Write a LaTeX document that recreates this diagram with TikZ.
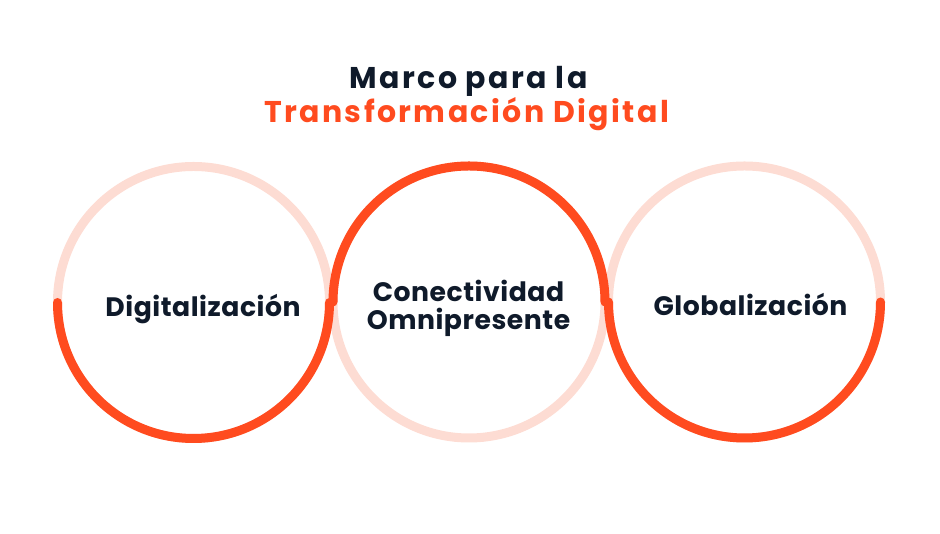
\documentclass[tikz,border=0pt]{standalone}
\usepackage{fontspec}
\setmainfont{Poppins}
\definecolor{navy}{HTML}{0F1A2A}
\definecolor{tang}{HTML}{FF4B1F}
\definecolor{blush}{HTML}{FDDCD3}
\tikzset{h/.style={font=\fontsize{22.5}{22.5}\selectfont\bfseries\addfontfeature{LetterSpace=8},anchor=base,inner sep=0pt}}
\tikzset{l/.style={font=\fontsize{20}{20}\selectfont\bfseries\addfontfeature{LetterSpace=2},anchor=base,inner sep=0pt,text=navy}}
\tikzset{ring/.style={line width=6.75pt,blush}}
\tikzset{arcus/.style={line width=6.75pt,tang,line cap=round}}

\begin{document}
\begin{tikzpicture}[x=0.75pt,y=0.75pt]
        \useasboundingbox (0,0) rectangle (940,534);
        % centres of the three rings
        \coordinate (cd) at (193.5,231.5);
        \coordinate (cc) at (469,232);
        \coordinate (cg) at (744.5,232);
        \foreach \x in {cd,cc,cg}
          \draw[ring] (\x) circle (136);
        \draw[arcus] ([shift={(180:136)}]cd) arc (180:360:136);
        \draw[arcus] ([shift={(180:136)}]cg) arc (180:360:136);
        \draw[arcus] ([shift={(0:136)}]cc) arc (0:180:136);
        % title
        \node[h,text=navy] (t1) at (468.5,445) {Marco para la};
        \node[h,text=tang] (t2) at (466.5,411) {Transformación Digital};
        % labels
        \node[l] (dig) at (203,217) {Digitalización};
        \node[l] (con) at (468.5,232) {Conectividad};
        \node[l] (omn) at (468.5,204) {Omnipresente};
        \node[l] (glo) at (750.5,218) {Globalización};
      \end{tikzpicture}
\end{document}
